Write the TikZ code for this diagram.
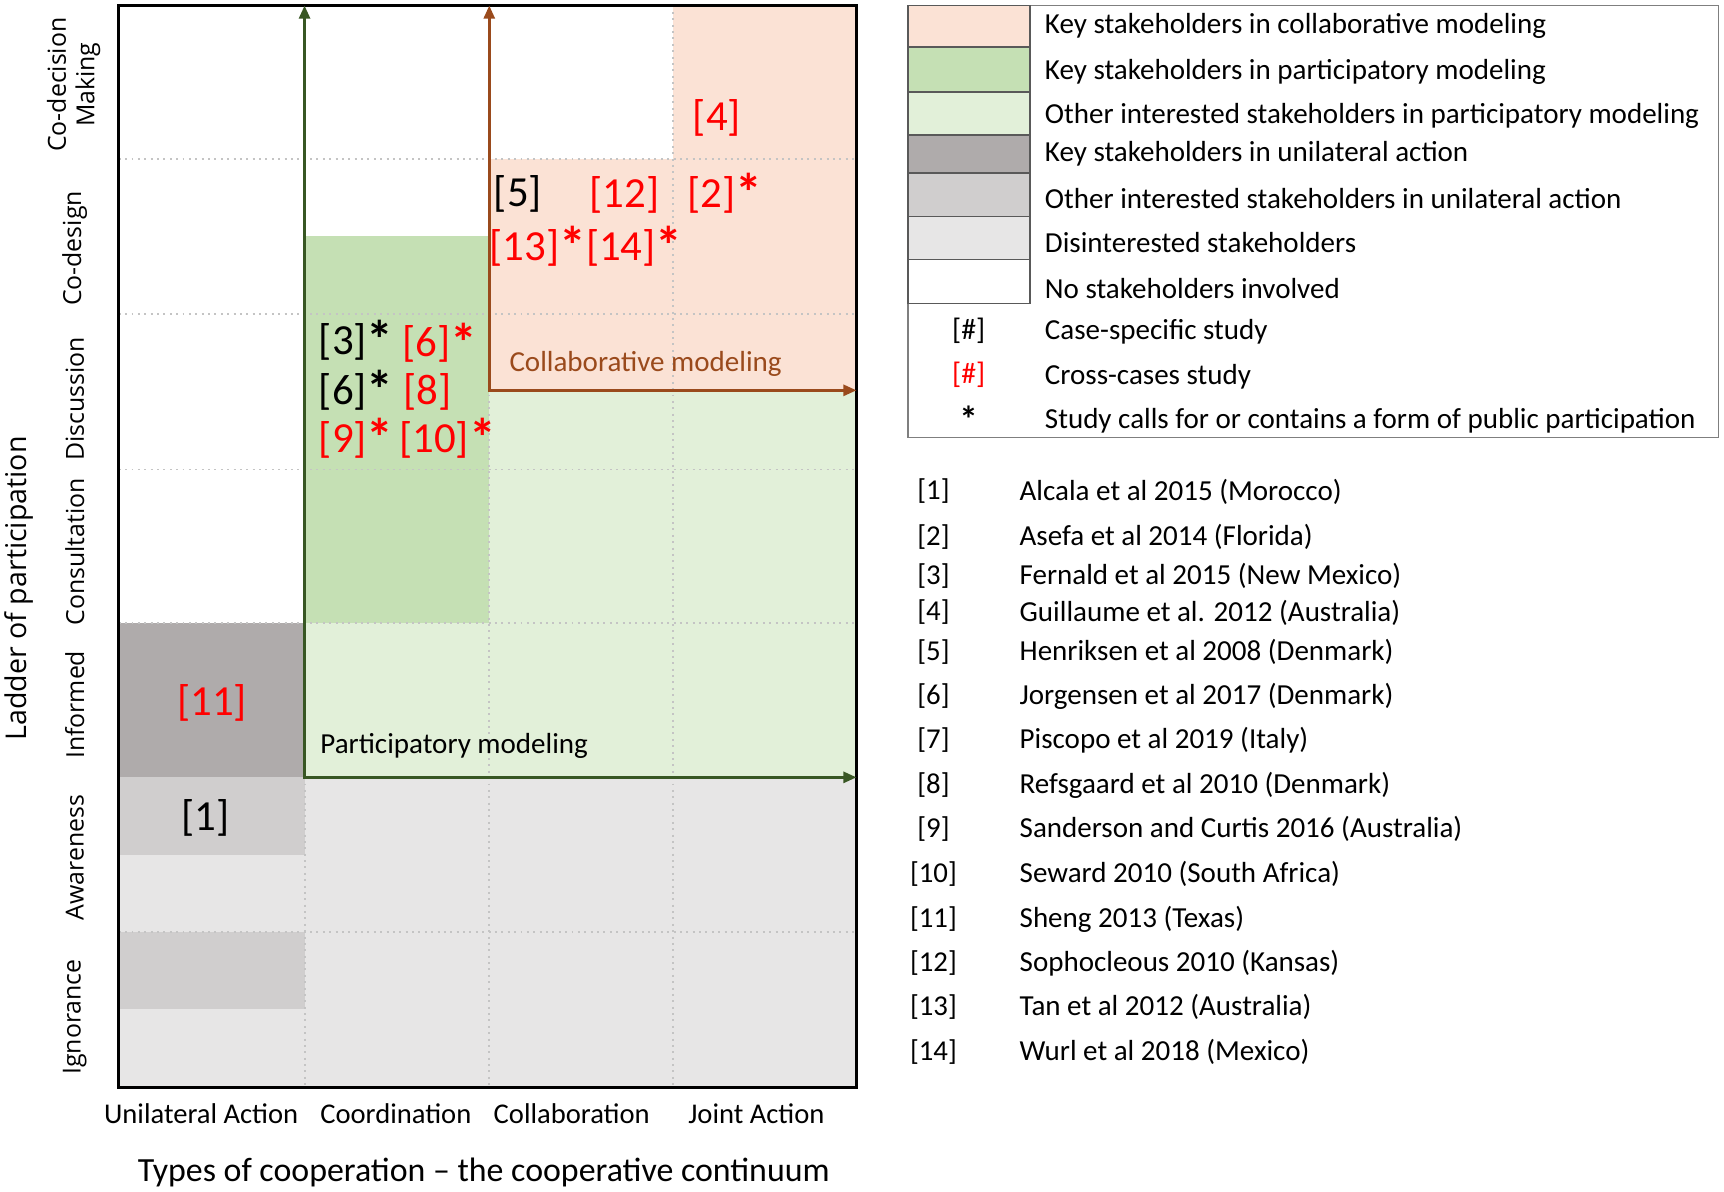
\documentclass[tikz,border=0pt]{standalone}
\usepackage{fontspec}
\setmainfont{Carlito}
\newfontfamily\osans{Open Sans}
\usetikzlibrary{arrows.meta}
\definecolor{salmon}{HTML}{FBE2D5}
\definecolor{keygreen}{HTML}{C5E0B4}
\definecolor{litegreen}{HTML}{E2F0D9}
\definecolor{darkgrey}{HTML}{AFABAB}
\definecolor{midgrey}{HTML}{D0CECE}
\definecolor{litegrey}{HTML}{E7E6E6}
\definecolor{gridc}{HTML}{C4C4C4}
\definecolor{garrow}{HTML}{385723}
\definecolor{barrow}{HTML}{9A4A1C}
\definecolor{legframe}{HTML}{7F7F7F}
\definecolor{swframe}{HTML}{595959}
\newcommand\bst{\raisebox{-0.1em}{\scalebox{1.25}{\bfseries *}}}
\tikzset{
  lg/.style={font=\fontsize{13.2}{15}\selectfont, anchor=west, inner sep=0pt},
  sym/.style={font=\fontsize{13.5}{15}\selectfont, inner sep=0pt},
  refn/.style={font=\fontsize{13.1}{15}\selectfont, inner sep=0pt},
  big/.style={font=\fontsize{19.5}{22}\selectfont, inner sep=0pt, text height=14pt, text depth=4.5pt},
  ylab/.style={font=\osans\fontsize{11.3}{13}\selectfont, rotate=90, inner sep=0pt, align=center},
  tick/.style={font=\fontsize{13}{15}\selectfont, inner sep=0pt},
  gridline/.style={draw=gridc, dotted, line width=0.9pt},
  swatch/.style={draw=swframe, line width=0.8pt},
  modarrow/.style={line width=1.3pt, {Triangle[length=6pt,width=5pt]}-{Triangle[length=6pt,width=5pt]}},
}
\begin{document}
\begin{tikzpicture}[x=0.5pt,y=-0.5pt]
\useasboundingbox (0,0) rectangle (1568,1084);
% ---- fills: column 1
\fill[darkgrey] (108,567) rectangle (277,707);
\fill[midgrey] (108,707) rectangle (277,778);
\fill[litegrey] (108,778) rectangle (277,848);
\fill[midgrey] (108,848) rectangle (277,918);
\fill[litegrey] (108,918) rectangle (277,989);
% column 2
\fill[keygreen] (277,215) rectangle (445,567);
\fill[litegreen] (277,567) rectangle (445,707);
% columns 3-4
\fill[salmon] (445,145) rectangle (612,355);
\fill[salmon] (612,5) rectangle (779,355);
\fill[litegreen] (445,355) rectangle (779,707);
\fill[litegrey] (277,707) rectangle (779,989);
% ---- grid
\foreach \yy in {145,286,427,567,848} \draw[gridline] (108,\yy) -- (779,\yy);
\foreach \xx in {277,445,612} \draw[gridline] (\xx,5) -- (\xx,989);
% ---- frame
\draw[line width=1.2pt] (108,5) rectangle (779,989);
% ---- arrows
\coordinate (gtop) at (277,5);
\coordinate (gcorner) at (277,707);
\coordinate (gright) at (779,707);
\coordinate (btop) at (445,5);
\coordinate (bcorner) at (445,355);
\coordinate (bright) at (779,355);
\draw[modarrow, draw=garrow] (gtop) -- (gcorner) -- (gright);
\draw[modarrow, draw=barrow] (btop) -- (bcorner) -- (bright);
% ---- in-chart labels
\node[big, text=red] (c4) at (652,109) {[4]};
\node[big] (c5) at (471,178) {[5]};
\node[big, text=red] (c12) at (568,179) {[12]};
\node[big, text=red] (c2) at (659,179) {[2]\bst};
\node[big, text=red] (c1314) at (533,227) {[13]\bst[14]\bst};
\node[big] (c3) at (324,313) {[3]\bst};
\node[big, text=red] (c6r) at (400,315) {[6]\bst};
\node[big] (c6b) at (324,358) {[6]\bst};
\node[big, text=red] (c8) at (389,358) {[8]};
\node[big, text=red] (c9) at (324,402) {[9]\bst};
\node[big, text=red] (c10) at (407,402) {[10]\bst};
\node[big, text=red] (c11) at (193,641) {[11]};
\node[big] (c1) at (187,746) {[1]};
\node[lg, text=barrow] (collab) at (463,331) {Collaborative modeling};
\node[lg] (partic) at (291,678) {Participatory modeling};
% ---- y labels
\node[ylab] (ycdm) at (67,77) {Co-decision\\Making};
\node[ylab] (ycd) at (68,226) {Co-design};
\node[ylab] (ydis) at (68,363) {Discussion};
\node[ylab] (ycon) at (68,502) {Consultation};
\node[ylab] (yinf) at (68,641) {Informed};
\node[ylab] (yawa) at (68,780) {Awareness};
\node[ylab] (yign) at (68,925) {Ignorance};
\node[ylab, font=\osans\fontsize{13}{15}\selectfont] (ytitle) at (17,535) {Ladder of participation};
% ---- x labels
\node[tick] (xua) at (183,1013) {Unilateral Action};
\node[tick] (xco) at (360,1013) {Coordination};
\node[tick] (xcl) at (520,1013) {Collaboration};
\node[tick] (xja) at (688,1013) {Joint Action};
\node[tick, font=\fontsize{15.4}{18}\selectfont] (xtitle) at (440,1066) {Types of cooperation -- the cooperative continuum};
% ---- legend
\draw[draw=legframe, line width=0.8pt] (826,5) rectangle (1563,398);
\filldraw[swatch, fill=salmon] (826,5) rectangle (937,43);
\filldraw[swatch, fill=keygreen] (826,43) rectangle (937,84);
\filldraw[swatch, fill=litegreen] (826,84) rectangle (937,123);
\filldraw[swatch, fill=darkgrey] (826,123) rectangle (937,157);
\filldraw[swatch, fill=midgrey] (826,157) rectangle (937,197);
\filldraw[swatch, fill=litegrey] (826,197) rectangle (937,236);
\filldraw[swatch, fill=white] (826,236) rectangle (937,276);
\node[lg] (l1) at (950,24) {Key stakeholders in collaborative modeling};
\node[lg] (l2) at (950,65) {Key stakeholders in participatory modeling};
\node[lg] (l3) at (950,105) {Other interested stakeholders in participatory modeling};
\node[lg] (l4) at (950,140) {Key stakeholders in unilateral action};
\node[lg] (l5) at (950,181) {Other interested stakeholders in unilateral action};
\node[lg] (l6) at (950,221) {Disinterested stakeholders};
\node[lg] (l7) at (950,262) {No stakeholders involved};
\node[lg] (l8) at (950,302) {Case-specific study};
\node[lg] (l9) at (950,343) {Cross-cases study};
\node[lg] (l10) at (950,383) {Study calls for or contains a form of public participation};
\node[sym] (s8) at (881,301) {[\#]};
\node[sym, text=red] (s9) at (881,341) {[\#]};
\node[sym] (s10) at (881,381) {\bst};
% ---- references
\foreach \n/\yy/\txt in {
  1/447/{Alcala et al 2015 (Morocco)},
  2/488/{Asefa et al 2014 (Florida)},
  3/524/{Fernald et al 2015 (New Mexico)},
  4/557/{Guillaume et al. 2012 (Australia)},
  5/593/{Henriksen et al 2008 (Denmark)},
  6/633/{Jorgensen et al 2017 (Denmark)},
  7/673/{Piscopo et al 2019 (Italy)},
  8/714/{Refsgaard et al 2010 (Denmark)},
  9/754/{Sanderson and Curtis 2016 (Australia)},
  10/795/{Seward 2010 (South Africa)},
  11/836/{Sheng 2013 (Texas)},
  12/876/{Sophocleous 2010 (Kansas)},
  13/916/{Tan et al 2012 (Australia)},
  14/957/{Wurl et al 2018 (Mexico)}}{
  \node[refn] (rn\n) at (849,\yy) {[\n]};
  \node[lg] (rt\n) at (927,\yy) {\txt};
}
\end{tikzpicture}
\end{document}
